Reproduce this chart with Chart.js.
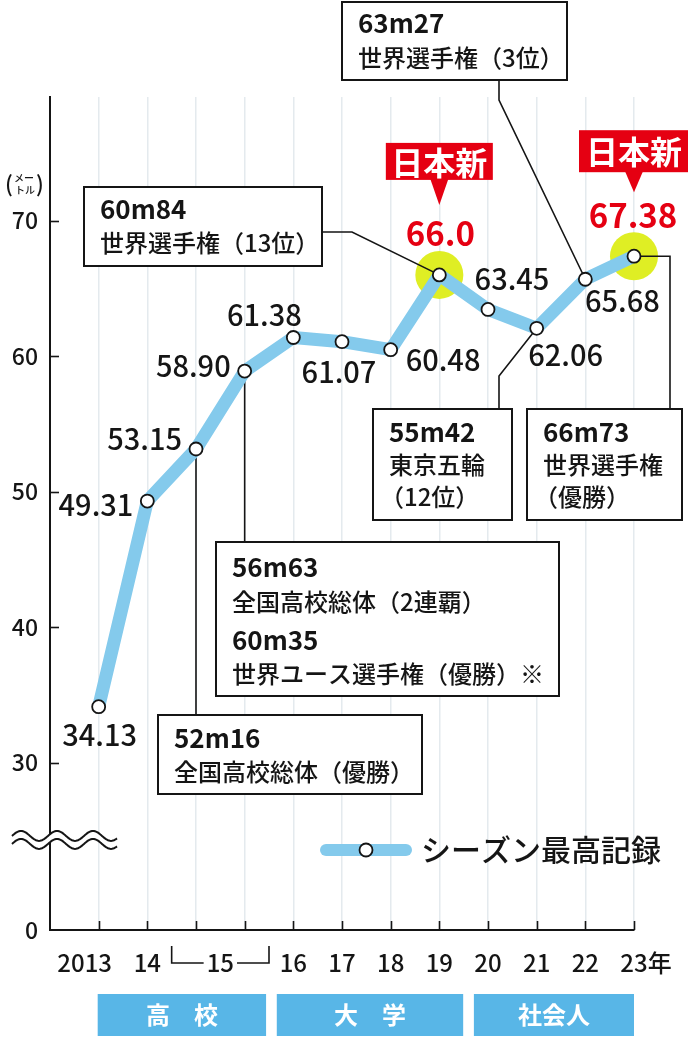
<!DOCTYPE html>
<html lang="ja">
<head>
<meta charset="utf-8">
<title>シーズン最高記録</title>
<script src="https://cdn.jsdelivr.net/npm/chart.js@4.4.1/dist/chart.umd.min.js"></script>
<style>
  html, body { margin: 0; padding: 0; background: #fff; }
  canvas { display: block; }
</style>
</head>
<body>
<canvas id="chart" width="688" height="1038"></canvas>
<script>
// season bests, metres
const seasons = ['2013', '14', '15', '15', '16', '17', '18', '19', '20', '21', '22', '23'];
const seasonBest = [34.13, 49.31, 53.15, 58.90, 61.38, 61.07, 60.48, 66.0, 63.45, 62.06, 65.68, 67.38];
const bestLabels = ['34.13', '49.31', '53.15', '58.90', '61.38', '61.07', '60.48', '66.0', '63.45', '62.06', '65.68', '67.38'];
const recordIdx = [7, 11];   // 日本新
const xTickLabels = ['2013', '14', '', '', '16', '17', '18', '19', '20', '21', '22', '23'];
const yTickValues = [30, 40, 50, 60, 70];
const stageNames = ['高　校', '大　学', '社会人'];
const stageSpans = [[-0.02, 3.44], [3.66, 7.49], [7.71, 11]];

// event notes: which season point each one belongs to
const noteIdx = [10, 7, 9, 11, 3, 2];
const noteLines = [
    ['63m27', '世界選手権（3位）'],
    ['60m84', '世界選手権（13位）'],
    ['55m42', '東京五輪', '（12位）'],
    ['66m73', '世界選手権', '（優勝）'],
    ['56m63', '全国高校総体（2連覇）', '60m35', '世界ユース選手権（優勝）※'],
    ['52m16', '全国高校総体（優勝）'],
];

// broken axis: everything below 30 squeezed, bottom shows as 0
const Y_MIN = 17.65;
const Y_MAX = 79.13;
const BREAK_AT = 24.3;

const FONT = '"Noto Sans CJK JP", "Noto Sans", sans-serif';
const REG = '500';
const INK = '#151515';
const LINE_BLUE = '#84caec';
const BAND_BLUE = '#58b6e7';
const RED = '#e50012';
const YELLOW = '#dfee24';

// label placement relative to each point: dx, dy, align
const labelPos = [
    [1, 28, 'center'], [-14, 4, 'right'], [-14, -10, 'right'], [-14, -5, 'right'],
    [-29, -23, 'center'], [-3, 30, 'center'], [15, 10, 'left'], [1, -41, 'center'],
    [24, -30, 'center'], [29, 27, 'center'], [37, 22, 'center'], [-1, -41, 'center'],
];
// note boxes [x1, y1, x2, y2], line centre offsets, leader waypoints (null = take point coord)
const noteBoxes = [[342, 2, 567, 80], [84, 187, 322, 266], [373, 409, 512, 520],
    [527, 409, 682, 520], [216, 542, 559, 696], [158, 715, 422, 794]];
const noteLineY = [[21, 56], [22, 56], [23, 56, 88], [23, 56, 88], [25, 60, 98, 132], [23, 57]];
const leaders = [
    [[499, 80], [499, 100]],
    [[322, 232], [352, 232]],
    [[499, 409], [499, 376]],
    [[670, 409], [670, null]],
    [[null, 542]],
    [[null, 715]],
];
const balloons = [[-132, -95, -70], [-126, -84, -64]];  // top, bottom, tip (relative to point y)

function txt(ctx, s, x, y, size, weight, color, align) {
    ctx.font = `${weight} ${size}px ${FONT}`;
    ctx.fillStyle = color;
    ctx.textAlign = align || 'left';
    ctx.textBaseline = 'middle';
    ctx.fillText(s, x, y);
}

const decor = {
    id: 'decor',
    beforeDatasetDraw(chart, args) {
        if (args.index !== 0) return;
        const ctx = chart.ctx;
        const pts = chart.getDatasetMeta(0).data;
        ctx.save();
        ctx.strokeStyle = INK;
        ctx.lineWidth = 1.6;
        leaders.forEach((path, k) => {
            const p = pts[noteIdx[k]];
            const q = path.map(([x, y]) => [x === null ? p.x : x, y === null ? p.y : y]);
            ctx.beginPath();
            ctx.moveTo(q[0][0], q[0][1]);
            q.slice(1).forEach(w => ctx.lineTo(w[0], w[1]));
            ctx.lineTo(p.x, p.y);
            ctx.stroke();
        });
        ctx.restore();
    },
    afterDraw(chart) {
        const ctx = chart.ctx;
        const xs = chart.scales.x, ys = chart.scales.y;
        const area = chart.chartArea;
        const pts = chart.getDatasetMeta(0).data;
        ctx.save();

        // inward tick marks
        ctx.strokeStyle = INK;
        ctx.lineWidth = 1.6;
        seasons.forEach((_, i) => {
            const x = Math.round(xs.getPixelForValue(i)) + 0.5;
            ctx.beginPath(); ctx.moveTo(x, area.bottom); ctx.lineTo(x, area.bottom - 9); ctx.stroke();
        });
        yTickValues.forEach(v => {
            const y = Math.round(ys.getPixelForValue(v)) + 0.5;
            ctx.beginPath(); ctx.moveTo(area.left, y); ctx.lineTo(area.left + 9, y); ctx.stroke();
        });

        // axis break
        const by = ys.getPixelForValue(BREAK_AT);
        const wave = (off) => {
            const out = [];
            for (let t = 0; t <= 105; t += 1) out.push([12 + t, by + off - 5 * Math.sin(2 * Math.PI * t / 36)]);
            return out;
        };
        const up = wave(-4), dn = wave(4);
        ctx.beginPath();
        up.forEach(([x, y], i) => i ? ctx.lineTo(x, y) : ctx.moveTo(x, y));
        dn.slice().reverse().forEach(([x, y]) => ctx.lineTo(x, y));
        ctx.closePath();
        ctx.fillStyle = '#fff';
        ctx.fill();
        ctx.lineWidth = 2;
        [up, dn].forEach(w => {
            ctx.beginPath();
            w.forEach(([x, y], i) => i ? ctx.lineTo(x, y) : ctx.moveTo(x, y));
            ctx.stroke();
        });

        // x labels
        const ly = 963;
        xTickLabels.forEach((s, i) => {
            if (!s) return;
            const x = xs.getPixelForValue(i);
            if (i === 0) { txt(ctx, s, x - 14, ly, 24, REG, INK, 'center'); return; }
            txt(ctx, s, x, ly, 24, REG, INK, 'center');
            if (i === seasons.length - 1) {
                const w = ctx.measureText(s).width;
                txt(ctx, '年', x + w / 2, ly, 24, REG, INK, 'left');
            }
        });
        // 15 spans two points
        const mid = xs.getPixelForValue(2.5);
        txt(ctx, '15', mid, ly, 24, REG, INK, 'center');
        const hw = ctx.measureText('15').width / 2 + 3;
        const bl = xs.getPixelForValue(1.5), br = xs.getPixelForValue(3.5);
        ctx.lineWidth = 1.6;
        ctx.beginPath();
        ctx.moveTo(bl, ly - 17); ctx.lineTo(bl, ly); ctx.lineTo(mid - hw, ly);
        ctx.moveTo(mid + hw, ly); ctx.lineTo(br, ly); ctx.lineTo(br, ly - 17);
        ctx.stroke();

        // stage bands
        stageSpans.forEach(([a, b], k) => {
            const x1 = xs.getPixelForValue(a), x2 = xs.getPixelForValue(b);
            ctx.fillStyle = BAND_BLUE;
            ctx.fillRect(x1, 994, x2 - x1, 42);
            txt(ctx, stageNames[k], (x1 + x2) / 2, 1015, 24, 'bold', '#fff', 'center');
        });

        // unit
        txt(ctx, '(', 9, 184, 22, REG, INK, 'center');
        txt(ctx, ')', 40, 184, 22, REG, INK, 'center');
        txt(ctx, 'メー', 24, 178, 10, REG, INK, 'center');
        txt(ctx, 'トル', 25, 190, 10, REG, INK, 'center');

        // point labels
        pts.forEach((p, i) => {
            const [dx, dy, al] = labelPos[i];
            const rec = recordIdx.includes(i);
            txt(ctx, bestLabels[i], p.x + dx, p.y + dy, rec ? 33 : 29, rec ? 'bold' : REG, rec ? RED : INK, al);
        });

        // 日本新 balloons
        recordIdx.forEach((i, k) => {
            const p = pts[i];
            const [t, b, tip] = balloons[k];
            const w = k === 0 ? 107 : 110;
            ctx.fillStyle = RED;
            ctx.fillRect(p.x - w / 2, p.y + t, w, b - t);
            ctx.beginPath();
            ctx.moveTo(p.x - 9, p.y + b - 1); ctx.lineTo(p.x + 9, p.y + b - 1); ctx.lineTo(p.x, p.y + tip);
            ctx.closePath(); ctx.fill();
            txt(ctx, '日本新', p.x, p.y + (t + b) / 2 + 1, 32, 'bold', '#fff', 'center');
        });

        // note boxes
        noteBoxes.forEach(([x1, y1, x2, y2], k) => {
            ctx.fillStyle = '#fff';
            ctx.fillRect(x1, y1, x2 - x1, y2 - y1);
            ctx.strokeStyle = INK;
            ctx.lineWidth = 2;
            ctx.strokeRect(x1, y1, x2 - x1, y2 - y1);
            noteLines[k].forEach((s, j) => {
                const bold = /^\d+m\d+$/.test(s);
                const lead = s.startsWith('（') ? -9 : 0;
                txt(ctx, s, x1 + 16 + lead, y1 + noteLineY[k][j], bold ? 26 : 24, bold ? 'bold' : REG, INK, 'left');
            });
        });

        // legend
        ctx.strokeStyle = LINE_BLUE;
        ctx.lineWidth = 12;
        ctx.lineCap = 'round';
        ctx.beginPath(); ctx.moveTo(326, 850); ctx.lineTo(406, 850); ctx.stroke();
        ctx.beginPath(); ctx.arc(366, 850, 6.5, 0, Math.PI * 2);
        ctx.fillStyle = '#fff'; ctx.fill();
        ctx.strokeStyle = INK; ctx.lineWidth = 1.8; ctx.stroke();
        txt(ctx, chart.data.datasets[0].label, 421, 850, 30, REG, INK, 'left');

        ctx.restore();
    }
};

new Chart(document.getElementById('chart'), {
    type: 'line',
    data: {
        datasets: [
            {
                label: 'シーズン最高記録',
                data: seasonBest.map((v, i) => ({ x: i, y: v })),
                borderColor: LINE_BLUE,
                borderWidth: 13,
                borderCapStyle: 'round',
                borderJoinStyle: 'round',
                pointRadius: 6.5,
                pointBackgroundColor: '#fff',
                pointBorderColor: INK,
                pointBorderWidth: 1.8,
                tension: 0,
                clip: false,
                order: 1,
            },
            {
                label: '日本新',
                data: recordIdx.map(i => ({ x: i, y: seasonBest[i] })),
                showLine: false,
                pointRadius: 24,
                pointBackgroundColor: YELLOW,
                pointBorderWidth: 0,
                clip: false,
                order: 2,
            },
        ],
    },
    options: {
        responsive: false,
        animation: false,
        events: [],
        layout: { padding: { left: 10, right: 54, top: 97, bottom: 108 } },
        plugins: { legend: { display: false }, tooltip: { enabled: false } },
        scales: {
            x: {
                type: 'linear',
                min: -1,
                max: 11,
                afterBuildTicks: s => { s.ticks = seasons.map((_, i) => ({ value: i })); },
                afterFit: s => { s.height = 0; },
                ticks: { display: false },
                grid: { color: '#e4eaee', lineWidth: 1.5, drawTicks: false },
                border: { color: INK, width: 2 },
            },
            y: {
                min: Y_MIN,
                max: Y_MAX,
                afterBuildTicks: s => { s.ticks = [Y_MIN, ...yTickValues].map(v => ({ value: v })); },
                afterFit: s => { s.width = 40; },
                ticks: {
                    callback: v => (v < 30 ? '0' : String(v)),
                    font: { size: 23, family: FONT, weight: REG },
                    color: INK,
                    padding: 12,
                },
                grid: { color: 'rgba(0,0,0,0)', drawTicks: false },
                border: { color: INK, width: 2 },
            },
        },
    },
    plugins: [decor],
});
</script>
</body>
</html>
